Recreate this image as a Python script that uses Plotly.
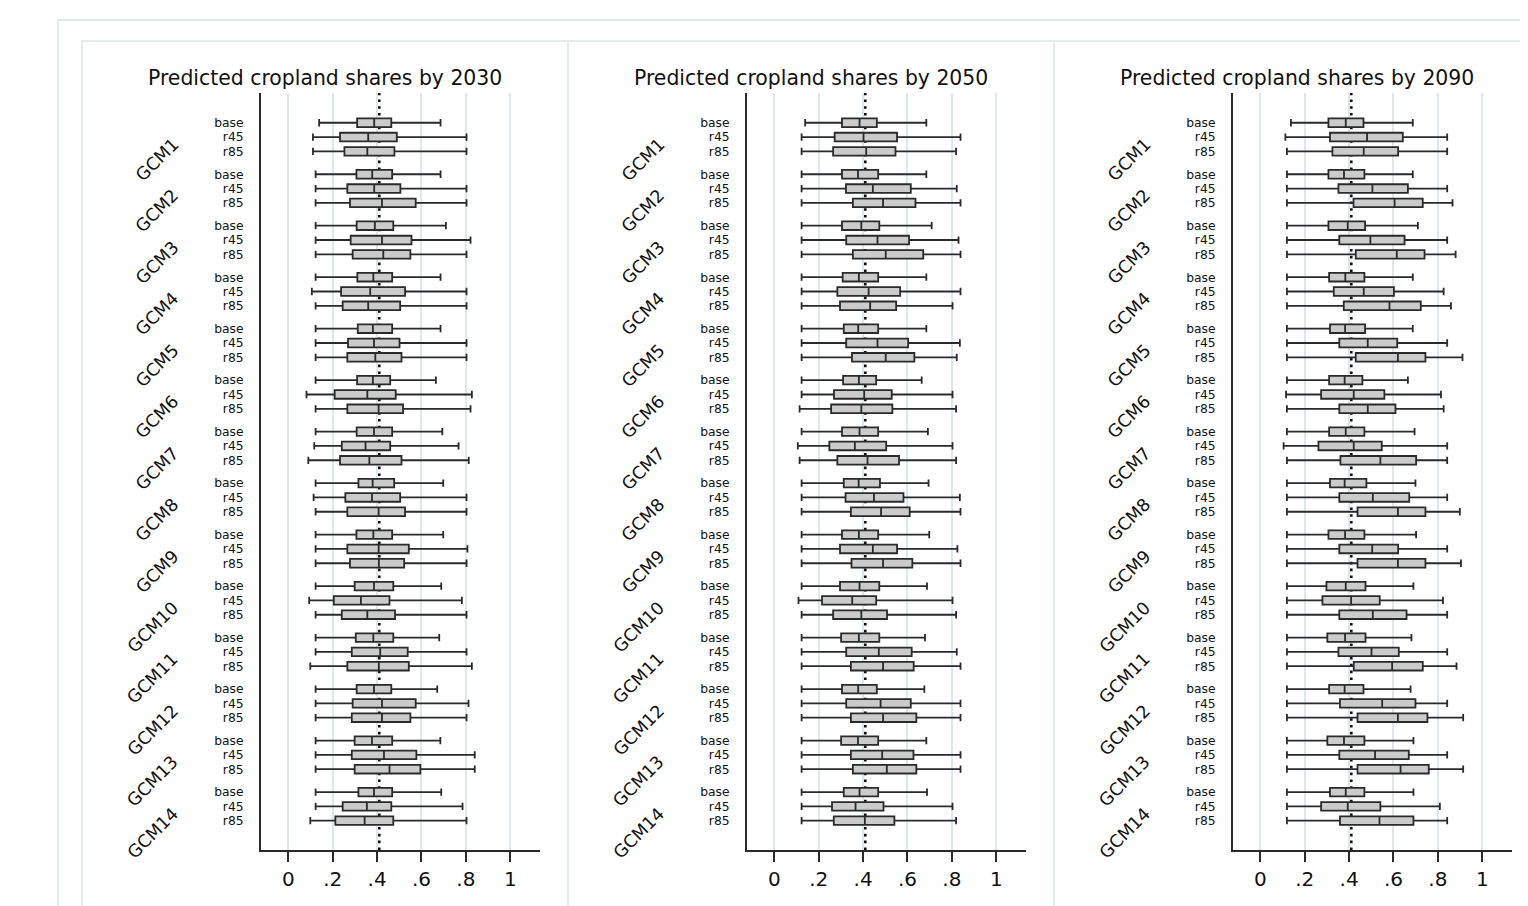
import plotly.graph_objects as go

# page body has an 8px margin, so the figure is drawn 8px smaller and coords are shifted
PAGE_MARGIN = 8
W, H = 1528 - PAGE_MARGIN, 906 - PAGE_MARGIN

YEARS = ["2030", "2050", "2090"]
GCMS = [f"GCM{i}" for i in range(1, 15)]
SCENARIOS = ["base", "r45", "r85"]
XTICK_VALS = [0, 0.2, 0.4, 0.6, 0.8, 1]
XTICK_TEXT = ["0", ".2", ".4", ".6", ".8", "1"]
REF_LINE = 0.41

# order: GCM1 base, r45, r85, GCM2 base, ...
LOW_2030 = [.139, .111, .111, .123, .123, .123, .123, .123, .123, .123, .106, .123, .123, .123, .123,
            .123, .082, .123, .123, .117, .090, .123, .114, .123, .123, .123, .123, .123, .094, .123,
            .123, .123, .099, .123, .123, .123, .123, .123, .123, .123, .123, .099]
Q1_2030 = [.310, .233, .253, .307, .266, .278, .308, .281, .290, .311, .238, .245, .313, .269, .266,
           .310, .209, .266, .308, .241, .233, .316, .257, .266, .307, .266, .278, .299, .205, .241,
           .304, .286, .266, .308, .290, .286, .299, .286, .299, .316, .245, .212]
MED_2030 = [.387, .360, .356, .378, .387, .422, .390, .422, .428, .383, .369, .360, .381, .386, .392,
            .381, .356, .407, .386, .348, .365, .380, .377, .407, .383, .407, .408, .386, .327, .356,
            .383, .414, .408, .386, .422, .422, .377, .431, .456, .386, .354, .344]
Q3_2030 = [.464, .489, .478, .468, .505, .574, .473, .555, .550, .468, .526, .504, .468, .501, .510,
           .459, .484, .517, .468, .459, .510, .477, .504, .526, .468, .543, .522, .473, .456, .481,
           .473, .538, .543, .464, .574, .550, .468, .577, .595, .468, .464, .473]
HIGH_2030 = [.686, .803, .803, .686, .803, .803, .710, .821, .803, .686, .803, .803, .686, .803, .803,
             .665, .827, .821, .694, .767, .813, .698, .803, .803, .698, .807, .803, .689, .782, .803,
             .680, .803, .827, .671, .812, .803, .685, .840, .840, .689, .785, .803]

LOW_2050 = [.139, .123, .123, .123, .123, .123, .123, .123, .123, .123, .123, .123, .123, .123, .123,
            .123, .123, .114, .123, .106, .114, .123, .123, .123, .123, .123, .123, .123, .109, .123,
            .123, .123, .123, .123, .123, .123, .123, .123, .123, .123, .123, .123]
Q1_2050 = [.305, .272, .265, .305, .323, .354, .305, .324, .354, .308, .284, .296, .313, .324, .350,
           .310, .269, .256, .305, .248, .284, .313, .321, .345, .305, .296, .348, .296, .215, .265,
           .301, .324, .345, .305, .324, .345, .301, .345, .354, .313, .260, .268]
MED_2050 = [.384, .402, .414, .377, .444, .490, .392, .465, .502, .381, .425, .432, .378, .465, .502,
            .381, .405, .392, .384, .363, .420, .380, .449, .481, .381, .444, .490, .384, .351, .392,
            .381, .471, .490, .378, .479, .490, .377, .486, .507, .384, .366, .408]
Q3_2050 = [.462, .553, .546, .468, .615, .636, .473, .607, .671, .468, .567, .549, .468, .603, .631,
           .459, .529, .532, .468, .504, .562, .476, .582, .610, .468, .553, .622, .473, .459, .508,
           .473, .619, .628, .462, .615, .640, .468, .627, .640, .468, .492, .541]
HIGH_2050 = [.685, .839, .819, .685, .822, .839, .709, .830, .839, .685, .839, .803, .685, .836, .822,
             .664, .803, .819, .692, .803, .819, .695, .836, .839, .698, .825, .839, .688, .803, .819,
             .679, .822, .839, .676, .839, .839, .685, .839, .839, .688, .803, .819]

LOW_2090 = [.138, .113, .120, .120, .120, .120, .120, .120, .120, .120, .120, .120, .120, .120, .120,
            .120, .116, .120, .120, .105, .120, .120, .120, .120, .120, .120, .120, .120, .120, .120,
            .120, .120, .120, .120, .120, .120, .120, .120, .120, .120, .120, .120]
Q1_2090 = [.307, .314, .325, .307, .352, .420, .307, .356, .430, .310, .331, .376, .314, .356, .430,
           .310, .274, .356, .310, .262, .361, .314, .356, .438, .307, .356, .438, .298, .280, .356,
           .302, .352, .421, .310, .359, .438, .302, .356, .438, .314, .274, .359]
MED_2090 = [.385, .481, .466, .377, .505, .605, .394, .496, .615, .383, .466, .582, .382, .484, .620,
            .380, .421, .484, .385, .421, .541, .380, .507, .620, .382, .504, .620, .385, .409, .507,
            .382, .501, .594, .380, .549, .620, .377, .517, .632, .385, .394, .537]
Q3_2090 = [.465, .642, .621, .469, .665, .732, .472, .650, .740, .469, .602, .723, .472, .617, .744,
           .460, .559, .609, .469, .547, .702, .478, .671, .744, .469, .621, .744, .474, .538, .659,
           .474, .624, .732, .465, .699, .753, .469, .669, .759, .469, .541, .690]
HIGH_2090 = [.687, .842, .842, .687, .842, .866, .710, .842, .880, .687, .826, .859, .687, .842, .911,
             .665, .814, .826, .695, .842, .842, .699, .842, .899, .702, .842, .904, .690, .823, .842,
             .681, .842, .884, .677, .842, .914, .690, .842, .914, .690, .809, .842]

STATS = {
    "2030": (LOW_2030, Q1_2030, MED_2030, Q3_2030, HIGH_2030),
    "2050": (LOW_2050, Q1_2050, MED_2050, Q3_2050, HIGH_2050),
    "2090": (LOW_2090, Q1_2090, MED_2090, Q3_2090, HIGH_2090),
}

# layout constants (screen pixels of the target picture)
GROUP_GAP = 3.6
PANEL_DX = 486
AX_LEFT, AX_RIGHT = 261, 540
PLOT_TOP, PLOT_BOTTOM = 93, 850
X_RANGE = [-0.123, 1.134]
Y_RANGE = [13 * GROUP_GAP + 2 + 2.05, -2.08]


def px(x):
    return (x - PAGE_MARGIN) / W


def py(y):
    return 1 - (y - PAGE_MARGIN) / H


FONT = "DejaVu Sans"
TXT = "#111111"
GRID = "#dde8ec"
FRAME = "#e2ebee"
EDGE = "#2a2a2a"

positions = [g * GROUP_GAP + k for g in range(len(GCMS)) for k in range(len(SCENARIOS))]
ylabels = [s for _ in GCMS for s in SCENARIOS]

fig = go.Figure()
layout = dict(
    width=W, height=H,
    margin=dict(l=0, r=0, t=0, b=0),
    paper_bgcolor="white", plot_bgcolor="white",
    showlegend=False,
    font=dict(family=FONT, color=TXT),
)
shapes = []
annotations = []

# outer frame
shapes.append(dict(type="rect", xref="paper", yref="paper",
                   x0=px(58), x1=1.1, y0=py(20), y1=-0.1,
                   line=dict(color=FRAME, width=2), layer="below"))

for i, year in enumerate(YEARS):
    sfx = "" if i == 0 else str(i + 1)
    xa, ya = "x" + sfx, "y" + sfx
    low, q1, med, q3, high = STATS[year]
    fig.add_trace(go.Box(
        y=positions, q1=q1, median=med, q3=q3, lowerfence=low, upperfence=high,
        orientation="h", xaxis=xa, yaxis=ya,
        fillcolor="#cbcbcb", line=dict(color=EDGE, width=1.8),
        width=0.6, whiskerwidth=0.85, boxpoints=False, hoverinfo="x",
    ))
    dx = PANEL_DX * i
    layout["xaxis" + sfx] = dict(
        domain=[px(AX_LEFT + dx), px(AX_RIGHT + dx)], anchor=ya,
        range=X_RANGE, tickvals=XTICK_VALS, ticktext=XTICK_TEXT,
        showgrid=True, gridcolor=GRID, gridwidth=1.5, zeroline=False,
        showline=True, linecolor=EDGE, linewidth=2,
        ticks="outside", ticklen=10, tickwidth=1.8, tickcolor=EDGE,
        tickfont=dict(size=20, family=FONT, color=TXT),
    )
    layout["yaxis" + sfx] = dict(
        domain=[py(PLOT_BOTTOM), py(PLOT_TOP)], anchor=xa,
        range=Y_RANGE, tickvals=positions, ticktext=ylabels,
        showgrid=False, zeroline=False,
        showline=True, linecolor=EDGE, linewidth=2,
        ticks="", ticklabelstandoff=13,
        tickfont=dict(size=12.3, family=FONT, color=TXT),
    )
    # panel frame
    shapes.append(dict(type="rect", xref="paper", yref="paper",
                       x0=px(82 + dx), x1=px(568 + dx), y0=py(41), y1=-0.1,
                       line=dict(color=FRAME, width=2), layer="below"))
    # reference dotted line
    shapes.append(dict(type="line", xref=xa, yref=ya + " domain",
                       x0=REF_LINE, x1=REF_LINE, y0=0, y1=1,
                       line=dict(color="#111111", width=2.6, dash="2.6px,4.2px"),
                       layer="below"))
    # title
    annotations.append(dict(text=f"Predicted cropland shares by {year}",
                            xref="paper", yref="paper",
                            x=px(325 + dx), y=py(78),
                            xanchor="center", yanchor="middle", showarrow=False,
                            font=dict(size=20.4, family=FONT, color=TXT)))
    # GCM group labels
    for g, name in enumerate(GCMS):
        annotations.append(dict(text=name, xref="paper", yref=ya,
                                x=px(185 + dx), y=g * GROUP_GAP + 1 - 0.4,
                                xanchor="right", yanchor="top", textangle=-45,
                                showarrow=False,
                                font=dict(size=17.5, family=FONT, color=TXT)))

layout["shapes"] = shapes
layout["annotations"] = annotations
fig.update_layout(**layout)
fig.write_html("out.html")
